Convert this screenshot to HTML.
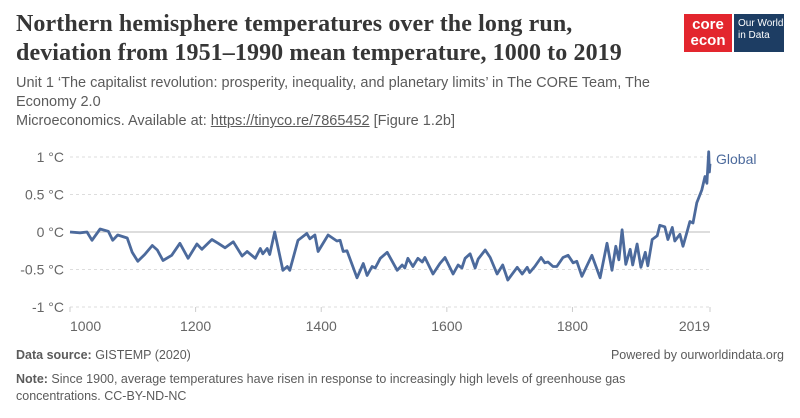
<!DOCTYPE html>
<html><head><meta charset="utf-8"><style>
body{margin:0;width:800px;height:418px;background:#fff;font-family:"Liberation Sans",sans-serif;position:relative;overflow:hidden}
.t{position:absolute;white-space:nowrap}
h1{position:absolute;left:16px;top:10px;margin:0;font-family:"Liberation Serif",serif;font-weight:bold;font-size:24px;line-height:29px;color:#363636;letter-spacing:0.1px}
.sub{left:16px;top:74px;font-size:14.5px;line-height:19px;color:#5b5b5b}
.foot{font-size:12.5px;color:#5b5b5b}
</style></head><body>
<h1>Northern hemisphere temperatures over the long run,<br>deviation from 1951–1990 mean temperature, 1000 to 2019</h1>
<div class="t sub">Unit 1 ‘The capitalist revolution: prosperity, inequality, and planetary limits’ in The CORE Team, The<br>Economy 2.0<br>Microeconomics. Available at: <u>https://tinyco.re/7865452</u> [Figure 1.2b]</div>
<div style="position:absolute;left:684px;top:14px;width:48px;height:38px;background:#e3262e;color:#fff;font-weight:bold;font-size:15px;line-height:16px;text-align:center;padding-top:3px;box-sizing:border-box">core<br>econ</div>
<div style="position:absolute;left:734px;top:14px;width:50px;height:38px;background:#1d3d63;color:#fff;font-size:10px;line-height:12px;padding:4px 0 0 4px;box-sizing:border-box">Our World<br>in Data</div>
<svg id="c" width="800" height="418" style="position:absolute;left:0;top:0"></svg>
<div class="t foot" style="left:16px;top:348px"><b>Data source:</b> GISTEMP (2020)</div>
<div class="t foot" style="right:16px;top:348px">Powered by ourworldindata.org</div>
<div class="t foot" style="left:16px;top:371px;line-height:17px"><b>Note:</b> Since 1900, average temperatures have risen in response to increasingly high levels of greenhouse gas<br>concentrations. CC-BY-ND-NC</div>
<script>
const years=[1000,1016,1027,1035,1048,1061,1068,1076,1091,1099,1108,1119,1131,1139,1148,1162,1175,1188,1202,1210,1226,1236,1247,1260,1274,1282,1295,1303,1307,1314,1318,1326,1339,1346,1350,1363,1377,1382,1390,1395,1411,1425,1430,1435,1441,1457,1467,1473,1481,1486,1494,1505,1521,1529,1533,1538,1546,1554,1561,1565,1578,1589,1597,1610,1618,1624,1629,1637,1645,1650,1661,1669,1680,1689,1697,1712,1720,1728,1732,1740,1750,1756,1761,1769,1775,1785,1793,1801,1807,1815,1831,1844,1855,1863,1869,1874,1879,1885,1892,1896,1903,1909,1916,1920,1927,1935,1939,1947,1952,1959,1963,1971,1976,1982,1987,1992,1998,2006,2011,2014,2017,2018,2019];
const temps=[0,-0.01,0,-0.11,0.04,0.01,-0.11,-0.04,-0.08,-0.27,-0.39,-0.30,-0.18,-0.24,-0.38,-0.31,-0.15,-0.35,-0.16,-0.23,-0.10,-0.15,-0.21,-0.13,-0.32,-0.26,-0.35,-0.22,-0.29,-0.22,-0.30,0.00,-0.51,-0.46,-0.51,-0.11,-0.02,-0.09,-0.04,-0.26,-0.04,-0.12,-0.11,-0.26,-0.25,-0.61,-0.42,-0.58,-0.46,-0.48,-0.35,-0.27,-0.51,-0.44,-0.48,-0.35,-0.46,-0.35,-0.40,-0.34,-0.56,-0.42,-0.34,-0.56,-0.44,-0.48,-0.35,-0.29,-0.48,-0.36,-0.24,-0.34,-0.56,-0.44,-0.64,-0.47,-0.56,-0.47,-0.54,-0.46,-0.34,-0.41,-0.40,-0.46,-0.46,-0.34,-0.31,-0.41,-0.39,-0.59,-0.31,-0.61,-0.15,-0.51,-0.19,-0.37,0.03,-0.43,-0.23,-0.44,-0.16,-0.47,-0.27,-0.45,-0.10,-0.05,0.09,0.07,-0.10,0.06,-0.12,-0.03,-0.19,-0.01,0.14,0.12,0.39,0.56,0.74,0.65,1.07,0.80,0.91];
const yTicks=[1,0.5,0,-0.5,-1];
const yTickLabels=["1 °C","0.5 °C","0 °C","-0.5 °C","-1 °C"];
const xTicks=[1000,1200,1400,1600,1800,2019];
const xTickLabels=["1000","1200","1400","1600","1800","2019"];
const seriesName="Global";
const NS="http://www.w3.org/2000/svg",svg=document.getElementById('c');
const X=y=>70+(y-1000)*(640/1019), Y=v=>232-v*75;
function mk(t,a,p){const e=document.createElementNS(NS,t);for(const k in a)e.setAttribute(k,a[k]);(p||svg).appendChild(e);return e;}
yTicks.forEach((v,i)=>{
 const l=mk('line',{x1:70,x2:710,y1:Y(v),y2:Y(v),stroke:v===0?'#bbb':'#ddd','stroke-dasharray':v===0?'':'3,3','stroke-width':1});
 
 
 const t=mk('text',{x:64,y:Y(v)+5,'text-anchor':'end','font-size':14,fill:'#666','font-family':'Liberation Sans'});
 t.textContent=yTickLabels[i];
 
 
});
xTicks.forEach((yr,i)=>{
 const l=mk('line',{x1:X(yr),x2:X(yr),y1:307,y2:312,stroke:'#ccc'});
 
 
 const anc=i===0?'start':(i===xTicks.length-1?'end':'middle');
 const t=mk('text',{x:X(yr),y:331,'text-anchor':anc,'font-size':14,fill:'#666','font-family':'Liberation Sans'});
 t.textContent=xTickLabels[i];
 
 
});
const p=mk('path',{d:years.map((y,i)=>(i?'L':'M')+X(y).toFixed(1)+','+Y(temps[i]).toFixed(1)).join(''),fill:'none',stroke:'#4c6a9c','stroke-width':2.8,'stroke-linejoin':'round'});


const lg=mk('text',{x:716,y:164,'font-size':14,fill:'#4c6a9c','font-family':'Liberation Sans'});
lg.textContent=seriesName;


</script>
</body></html>
